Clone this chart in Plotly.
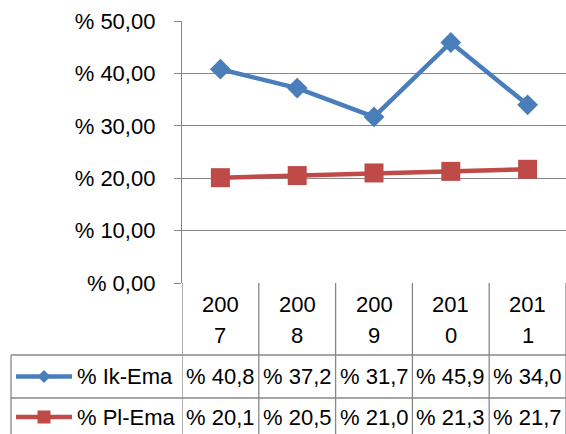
import plotly.graph_objects as go

# ---- data ----
years = ["2007", "2008", "2009", "2010", "2011"]
ik_ema = [40.8, 37.2, 31.7, 45.9, 34.0]
pl_ema = [20.1, 20.5, 21.0, 21.3, 21.7]
series_names = ["% Ik-Ema", "% Pl-Ema"]
y_tick_vals = [0, 10, 20, 30, 40, 50]
y_tick_text = ["% 0,00", "% 10,00", "% 20,00", "% 30,00", "% 40,00", "% 50,00"]

W, H = 566, 434
BLUE = "#4A7EBB"
RED = "#BE4B48"
GRID = "#878787"
FONT = "Liberation Sans"
FS = 22


def px(x):
    return x / W


def py(y):
    return 1 - y / H


plot_left, plot_top, plot_bottom = 182, 21, 283
header_bottom, row1_bottom = 355, 398
table_left = 11

fig = go.Figure()
fig.add_trace(go.Scatter(x=years, y=ik_ema, name=series_names[0], mode="lines+markers",
                         line=dict(color=BLUE, width=4.5),
                         marker=dict(symbol="diamond", size=16, color=BLUE)))
fig.add_trace(go.Scatter(x=years, y=pl_ema, name=series_names[1], mode="lines+markers",
                         line=dict(color=RED, width=4.5),
                         marker=dict(symbol="square", size=19, color=RED)))

fig.update_layout(
    width=W, height=H,
    margin=dict(l=0, r=0, t=0, b=0, autoexpand=False),
    paper_bgcolor="white", plot_bgcolor="white",
    showlegend=False,
    font=dict(family=FONT, size=FS, color="black"),
    xaxis=dict(type="category", range=[-0.5, 4.5], domain=[px(plot_left), 1],
               showticklabels=False, showgrid=False, zeroline=False, ticks="",
               automargin=False),
    yaxis=dict(range=[0, 50], domain=[py(plot_bottom), py(plot_top)],
               tickvals=y_tick_vals, ticktext=y_tick_text,
               showgrid=True, gridcolor=GRID, gridwidth=1.3,
               zeroline=False, showline=True, linecolor=GRID, linewidth=1.3,
               ticks="outside", ticklen=7, tickcolor=GRID, tickwidth=1.3,
               ticklabelstandoff=14, automargin=False,
               tickfont=dict(family=FONT, size=FS, color="black")),
)

shapes = []
# vertical cell borders (category boundaries)
for i in range(len(years) + 1):
    shapes.append(dict(type="line", xref="x", yref="paper", x0=i - 0.5, x1=i - 0.5,
                       y0=0, y1=py(plot_bottom), line=dict(color=GRID, width=1.3)))
# horizontal table borders
for yy in (header_bottom, row1_bottom):
    shapes.append(dict(type="line", xref="paper", yref="paper", x0=px(table_left), x1=1,
                       y0=py(yy), y1=py(yy), line=dict(color=GRID, width=1.3)))
# left border of the legend column
shapes.append(dict(type="line", xref="paper", yref="paper", x0=px(table_left), x1=px(table_left),
                   y0=0, y1=py(header_bottom), line=dict(color=GRID, width=1.3)))

annotations = []
# header: years split over two lines
for i, yr in enumerate(years):
    for part, yc in ((yr[:3], 304), (yr[3:], 335)):
        annotations.append(dict(xref="x", yref="paper", x=i, y=py(yc),
                                text=part, showarrow=False,
                                font=dict(family=FONT, size=FS, color="black"),
                                xanchor="center", yanchor="middle"))

row_centers = [376.5, 417]
colors = [BLUE, RED]
symbols = ["diamond", "square"]
for r, (vals, name) in enumerate(zip([ik_ema, pl_ema], series_names)):
    yc = row_centers[r]
    for i, v in enumerate(vals):
        annotations.append(dict(xref="x", yref="paper", x=i, y=py(yc),
                                text="% " + f"{v:.1f}".replace(".", ","), showarrow=False,
                                font=dict(family=FONT, size=FS, color="black"),
                                xanchor="center", yanchor="middle"))
    annotations.append(dict(xref="paper", yref="paper", x=px(75), y=py(yc), text=name,
                            showarrow=False, font=dict(family=FONT, size=FS, color="black"),
                            xanchor="left", yanchor="middle"))
    # legend key line
    shapes.append(dict(type="line", xref="paper", yref="paper", x0=px(16), x1=px(72),
                       y0=py(yc), y1=py(yc), line=dict(color=colors[r], width=4.5)))
    cx = 44
    d = 6.5
    if symbols[r] == "diamond":
        path = (f"M {px(cx - d)} {py(yc)} L {px(cx)} {py(yc - d)} "
                f"L {px(cx + d)} {py(yc)} L {px(cx)} {py(yc + d)} Z")
    else:
        path = (f"M {px(cx - d)} {py(yc - d)} L {px(cx + d)} {py(yc - d)} "
                f"L {px(cx + d)} {py(yc + d)} L {px(cx - d)} {py(yc + d)} Z")
    shapes.append(dict(type="path", xref="paper", yref="paper", path=path,
                       fillcolor=colors[r], line=dict(width=0)))

fig.update_layout(shapes=shapes, annotations=annotations)
fig.write_html("out.html", config={"displayModeBar": False},
               post_script="document.body.style.margin='0';document.body.style.overflow='hidden';")
